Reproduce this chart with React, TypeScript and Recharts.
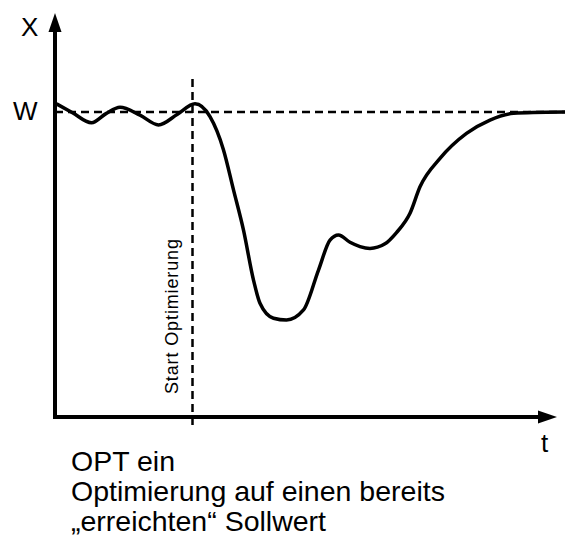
import React from 'react';
import { ComposedChart, Line, XAxis, YAxis, ReferenceLine, ReferenceDot } from 'recharts';

// time axis (t) and controlled variable (X), W = setpoint = 100
const tValues = [0.3, 3.5, 7.3, 10.2, 13, 17, 20.7, 24.5, 28, 31, 33.7, 35.7, 37.7, 39.7, 41, 43.7, 46.3, 49.7, 52.7, 55, 56.7, 59, 61, 63, 66, 68.3, 71, 73, 77, 82.3, 87, 91.7, 95.6, 102];
const xValues = [102.7, 99.8, 96.5, 99.5, 101.6, 99, 95.8, 99.3, 102.7, 98.5, 87.6, 74.5, 61.3, 44.9, 37.3, 32.4, 31.8, 35.1, 48.2, 58, 59.7, 57.3, 55.9, 55.3, 56.8, 60.5, 66.8, 75.5, 84.8, 93, 97.4, 99.6, 99.9, 100];

const setpoint = 100;
const startOpt = 27.5;
const startLineSpan = [-2.6, 111.2];
const tDomain = [0, 102];
const xDomain = [0, 132.5];
const xArrowEnd = 96.6;
const yArrowEnd = 126.5;

const bottomLines = ['OPT ein', 'Optimierung auf einen bereits', '\u201eerreichten\u201c Sollwert'];

const data = tValues.map((t, i) => ({ t, x: xValues[i] }));

const FONT = '"Liberation Sans", Arial, sans-serif';

const upArrow = (p: any) => (
  <polygon points={`${p.cx},${p.cy} ${p.cx - 6.5},${p.cy + 19} ${p.cx + 6.5},${p.cy + 19}`} fill="#000" />
);
const rightArrow = (p: any) => (
  <polygon points={`${p.cx},${p.cy} ${p.cx - 19},${p.cy - 6.5} ${p.cx - 19},${p.cy + 6.5}`} fill="#000" />
);

export default function App() {
  return (
    <div style={{ position: 'absolute', left: 0, top: 0, width: 565, height: 537, background: '#fff' }}>
      <ComposedChart width={565} height={537} data={data} margin={{ top: 13, right: 0, bottom: 120, left: 55 }}>
        <XAxis dataKey="t" type="number" domain={tDomain} hide />
        <YAxis type="number" domain={xDomain} hide />
        <ReferenceLine
          y={setpoint}
          stroke="#000"
          strokeWidth={2.5}
          strokeDasharray="8 5"
        />
        <ReferenceLine
          segment={[{ x: startOpt, y: startLineSpan[0] }, { x: startOpt, y: startLineSpan[1] }]}
          stroke="#000"
          strokeWidth={2.5}
          strokeDasharray="8 5"
          ifOverflow="visible"
        />
        <ReferenceLine
          segment={[{ x: 0, y: 0 }, { x: xArrowEnd, y: 0 }]}
          stroke="#000"
          strokeWidth={4}
          strokeLinecap="square"
          ifOverflow="visible"
        />
        <ReferenceLine
          segment={[{ x: 0, y: 0 }, { x: 0, y: yArrowEnd }]}
          stroke="#000"
          strokeWidth={4}
          strokeLinecap="square"
          ifOverflow="visible"
        />
        <ReferenceDot x={0} y={xDomain[1]} shape={upArrow} ifOverflow="visible" />
        <ReferenceDot x={100.4} y={0} shape={rightArrow} ifOverflow="visible" />
        <Line
          dataKey="x"
          type="monotone"
          stroke="#000"
          strokeWidth={3.5}
          dot={false}
          isAnimationActive={false}
        />
      </ComposedChart>
      <svg width={565} height={537} style={{ position: 'absolute', left: 0, top: 0, pointerEvents: 'none' }}>
        <g fontFamily={FONT} fill="#000">
          <text x={21} y={36} fontSize={26}>X</text>
          <text x={13} y={120} fontSize={26}>W</text>
          <text x={541} y={452} fontSize={26}>t</text>
          <text
            x={178}
            y={394}
            fontSize={18}
            textLength={155}
            transform="rotate(-90 178 394)"
          >
            Start Optimierung
          </text>
          {bottomLines.map((line, i) => (
            <text key={i} x={71} y={471 + i * 30} fontSize={28.5}>{line}</text>
          ))}
        </g>
      </svg>
    </div>
  );
}
